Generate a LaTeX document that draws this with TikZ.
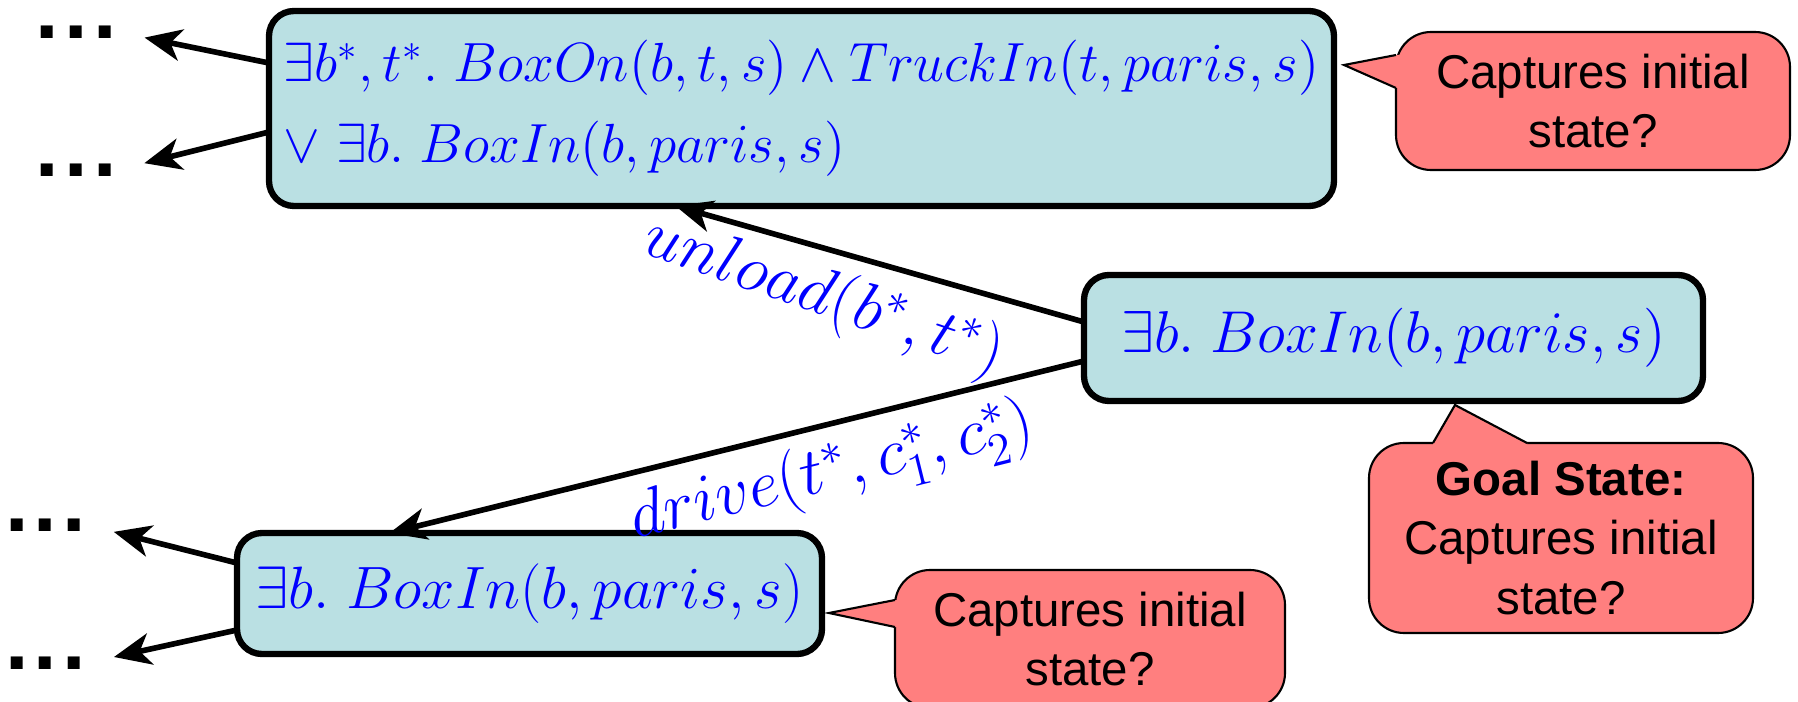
\RequirePackage{fix-cm}
\documentclass[tikz,border=0pt]{standalone}
\usepackage{amsmath}
\usepackage{amssymb}
\usepackage[no-math]{fontspec}
\newfontfamily\calloutfont{Liberation Sans}
\usepackage{tikz}
\usetikzlibrary{arrows.meta}
\definecolor{formulafill}{RGB}{186,224,227}
\definecolor{notefill}{RGB}{255,127,127}
\tikzstyle{formula} = [draw, line width=1.8pt, fill=formulafill, text=blue,
    rounded corners=0.25cm, inner sep=0pt, outer sep=0pt]
\tikzstyle{note} = [draw, line width=0.6pt, fill=notefill, rounded corners=0.35cm,
    align=center, inner sep=0pt, outer sep=0pt,
    font=\calloutfont\fontsize{13.5}{17}\selectfont]
\tikzstyle{more} = [font=\calloutfont\bfseries\fontsize{24}{24}\selectfont, inner sep=0pt]
\tikzset{
  line/.style ={draw, line width=1.6pt, -{Stealth[length=10.5pt,width=9pt,inset=3pt]}},
  action/.style ={text=blue, font=\fontsize{19}{19}\selectfont}
}

\begin{document}
\begin{tikzpicture}
  \clip (0,0) rectangle (17.98,7.01);
  \node[formula, minimum width=10.65cm, minimum height=1.95cm, align=left,
        font=\fontsize{15.7}{23}\selectfont] (regr_unload) at (8.015,5.925)
        {$\exists b^*, t^*.\; BoxOn(b,t,s) \wedge TruckIn(t, paris, s)$\\
         $\vee\; \exists b.\; BoxIn(b, paris, s)$};
  \node[formula, minimum width=6.19cm, minimum height=1.26cm,
        font=\fontsize{16.8}{20}\selectfont] (goal) at (13.935,3.63)
        {$\exists b.\; BoxIn(b, paris, s)$};
  \node[formula, minimum width=5.85cm, minimum height=1.21cm,
        font=\fontsize{17}{20}\selectfont] (regr_drive) at (5.295,1.075)
        {$\exists b.\; BoxIn(b, paris, s)$};

  \node[more] (unload_more1) at (0.76,6.69) {.\kern1.5pt.\kern1.5pt.};
  \node[more] (unload_more2) at (0.76,5.31) {.\kern1.5pt.\kern1.5pt.};
  \node[more] (drive_more1) at (0.455,1.76) {.\kern1.5pt.\kern1.5pt.};
  \node[more] (drive_more2) at (0.455,0.38) {.\kern1.5pt.\kern1.5pt.};

  \path[line, shorten >=0.28cm] ([yshift=0.455cm]regr_unload.west) -- (unload_more1.east);
  \path[line, shorten >=0.28cm] ([yshift=-0.235cm]regr_unload.west) -- (unload_more2.east);
  \path[line, shorten >=0.28cm] ([yshift=0.305cm]regr_drive.west) -- (drive_more1.east);
  \path[line, shorten >=0.28cm] ([yshift=-0.365cm]regr_drive.west) -- (drive_more2.east);

  \path[line] ([yshift=0.16cm]goal.west) --
      node[action, sloped, below, pos=0.6, rotate=-3] {$unload(b^*, t^*)$}
      ([xshift=-1.26cm]regr_unload.south);
  \path[line] ([yshift=-0.23cm]goal.west) --
      node[action, sloped, below, pos=0.38] {$drive(t^*, c_1^*, c_2^*)$}
      ([xshift=-1.4cm]regr_drive.north);

  % callouts
  \node[note, minimum width=3.94cm, minimum height=1.38cm] (unload_note) at (15.93,6.00)
      {Captures initial\\state?};
  \coordinate (unload_tip) at ([xshift=0.1cm,yshift=0.435cm]regr_unload.east);
  \fill[notefill] ([yshift=0.46cm]unload_note.west) -- (unload_tip) -- ([yshift=0.13cm]unload_note.west)
      -- ++(0.1,0) -- ([xshift=0.1cm,yshift=0.46cm]unload_note.west) -- cycle;
  \draw[line width=0.6pt] ([yshift=0.46cm]unload_note.west) -- (unload_tip) -- ([yshift=0.13cm]unload_note.west);

  \node[note, minimum width=3.84cm, minimum height=1.90cm] (goal_note) at (15.61,1.63)
      {\textbf{Goal State:}\\Captures initial\\state?};
  \coordinate (goal_tip) at ([xshift=0.615cm,yshift=-0.04cm]goal.south);
  \fill[notefill] ([xshift=-1.28cm]goal_note.north) -- (goal_tip) -- ([xshift=-0.34cm]goal_note.north)
      -- ++(0,-0.1) -- ([xshift=-1.28cm,yshift=-0.1cm]goal_note.north) -- cycle;
  \draw[line width=0.6pt] ([xshift=-1.28cm]goal_note.north) -- (goal_tip) -- ([xshift=-0.34cm]goal_note.north);

  \node[note, minimum width=3.90cm, minimum height=1.38cm] (drive_note) at (10.90,0.62)
      {Captures initial\\state?};
  \coordinate (drive_tip) at ([xshift=0.07cm,yshift=-0.195cm]regr_drive.east);
  \fill[notefill] ([yshift=0.39cm]drive_note.west) -- (drive_tip) -- ([yshift=0.12cm]drive_note.west)
      -- ++(0.1,0) -- ([xshift=0.1cm,yshift=0.39cm]drive_note.west) -- cycle;
  \draw[line width=0.6pt] ([yshift=0.39cm]drive_note.west) -- (drive_tip) -- ([yshift=0.12cm]drive_note.west);
\end{tikzpicture}
\end{document}
